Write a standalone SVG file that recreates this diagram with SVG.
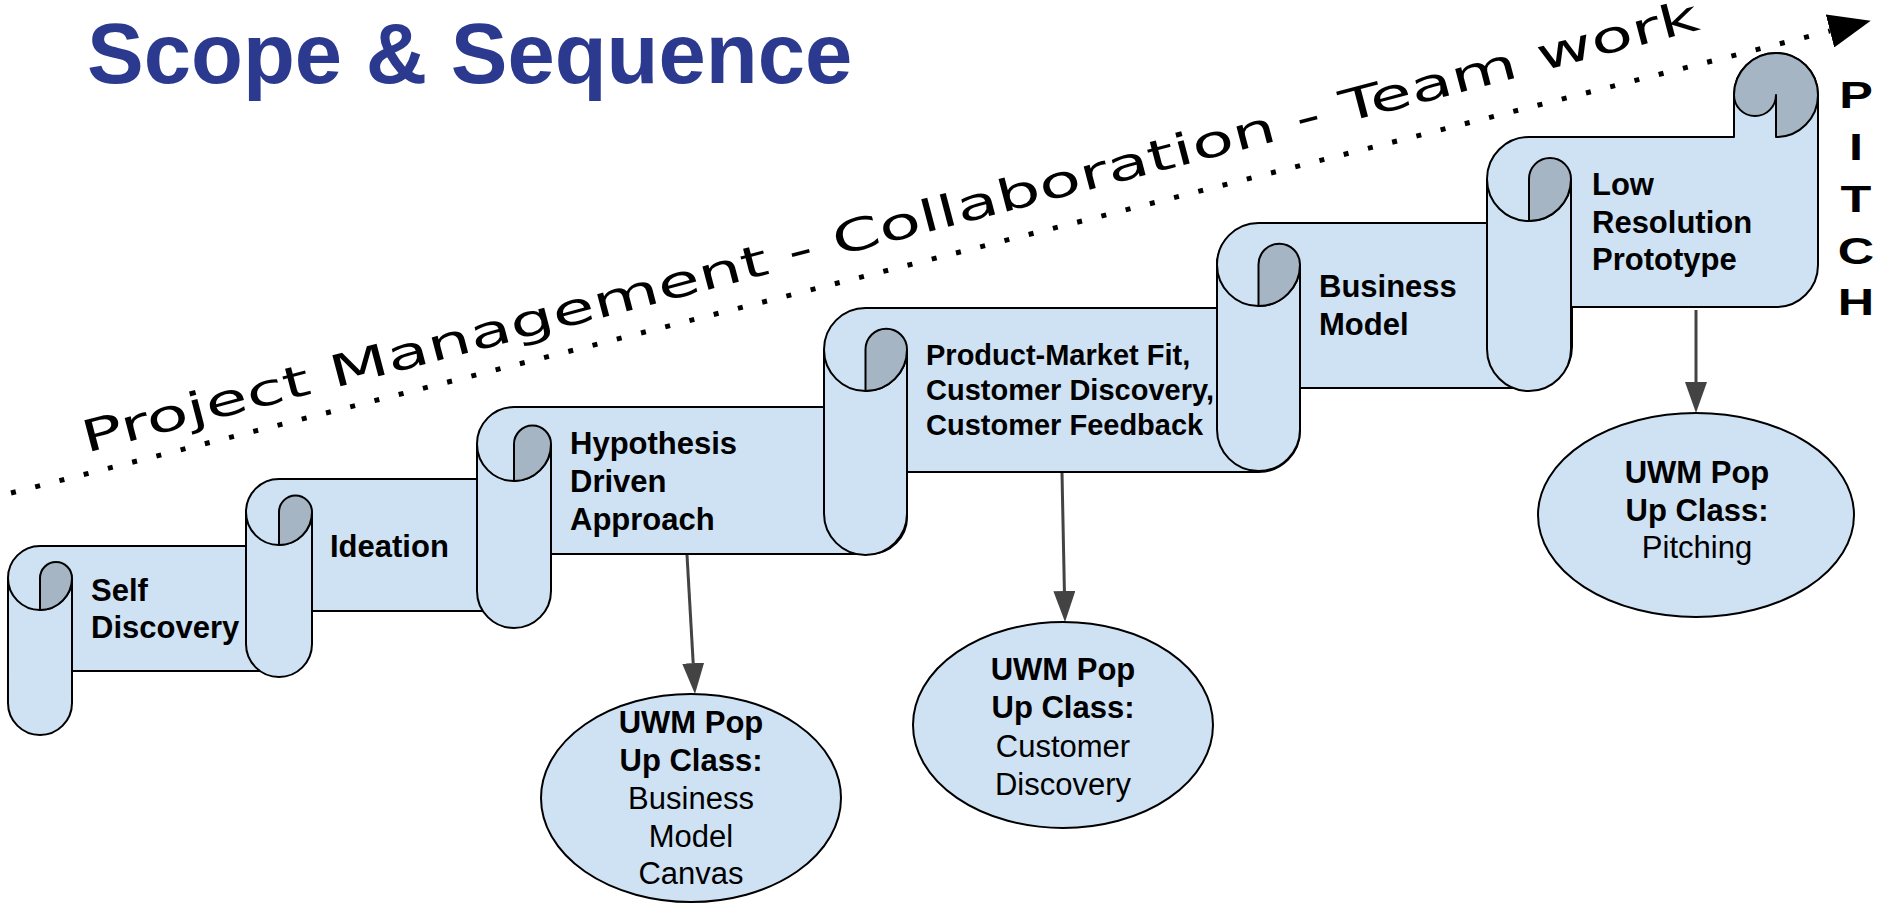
<svg xmlns="http://www.w3.org/2000/svg" width="1882" height="903" viewBox="0 0 1882 903">
<style>
.body{fill:#cfe2f3;stroke:#000;stroke-width:2;stroke-linejoin:round}
.curl{fill:#a5b5c4;stroke:#000;stroke-width:2;stroke-linejoin:round}
.ln{fill:none;stroke:#000;stroke-width:2}
.t{font-family:"Liberation Sans",Arial,sans-serif;font-size:31px;fill:#000}
.b{font-weight:bold}
.c{text-anchor:middle}
.conn{stroke:#434343;stroke-width:3;fill:none;marker-end:url(#ah)}
.oval{fill:#cfe2f3;stroke:#000;stroke-width:2}
</style>
<defs>
<marker id="ah" markerUnits="userSpaceOnUse" orient="auto" viewBox="0 -11 31 22" markerWidth="31" markerHeight="22" refX="0" refY="0"><path d="M0,-11 L31,0 L0,11 Z" fill="#434343"/></marker>
<marker id="bigah" markerUnits="userSpaceOnUse" orient="auto" viewBox="0 -17 42 34" markerWidth="42" markerHeight="34" refX="0" refY="0"><path d="M0,-17 L42,0 L0,17 Z" fill="#000"/></marker>
</defs>
<rect width="1882" height="903" fill="#fff"/>
<text id="title" x="87" y="83" style="font-family:'Liberation Sans',Arial,sans-serif;font-size:85px;font-weight:bold;fill:#2b3a8f">Scope &amp; Sequence</text>
<g id="timeline">
<path d="M11,493 L1830,31" style="stroke:#000;stroke-width:5;stroke-dasharray:5 20;fill:none;marker-end:url(#bigah)"/>
<text transform="rotate(-14.7 86 453)" x="86" y="453" textLength="1670" lengthAdjust="spacingAndGlyphs" style="font-family:'DejaVu Sans',sans-serif;font-size:44px;fill:#000">Project Management - Collaboration - Team work</text>
</g>
<g id="pitch" class="t b" style="font-size:36px">
<text transform="translate(1856,108) scale(1.4,1)" class="c">P</text>
<text transform="translate(1856,160) scale(1.4,1)" class="c">I</text>
<text transform="translate(1856,212) scale(1.4,1)" class="c">T</text>
<text transform="translate(1856,264) scale(1.4,1)" class="c">C</text>
<text transform="translate(1856,315) scale(1.4,1)" class="c">H</text>
</g>
<g id="scroll1">
<path class="body" d="M40,546 L247,546 L247,514 A32,32 0 0 1 311,514 L311,639 A32,32 0 0 1 279,671 L72,671 L72,703 A32,32 0 0 1 8,703 L8,578 A32,32 0 0 1 40,546 Z"/>
<path class="ln" d="M8,578 A32,32 0 0 0 72,578 M72,578 L72,671"/>
<path class="curl" d="M40,578 A16,16 0 0 1 72,578 A32,32 0 0 1 40,610 Z"/>
<path class="curl" d="M247,514 A32,32 0 0 1 311,514 A32,32 0 0 1 279,546 L279,514 A16,16 0 0 1 247,514 Z"/>
<text class="t b" x="91" y="601">Self</text>
<text class="t b" x="91" y="638">Discovery</text>
</g>
<g id="scroll2">
<path class="body" d="M279,479 L485,479 L485,446 A33,33 0 0 1 551,446 L551,578 A33,33 0 0 1 518,611 L312,611 L312,644 A33,33 0 0 1 246,644 L246,512 A33,33 0 0 1 279,479 Z"/>
<path class="ln" d="M246,512 A33,33 0 0 0 312,512 M312,512 L312,611"/>
<path class="curl" d="M279,512 A16.5,16.5 0 0 1 312,512 A33,33 0 0 1 279,545 Z"/>
<path class="curl" d="M485,446 A33,33 0 0 1 551,446 A33,33 0 0 1 518,479 L518,446 A16.5,16.5 0 0 1 485,446 Z"/>
<text class="t b" x="330" y="557">Ideation</text>
</g>
<g id="scroll3">
<path class="body" d="M514,407 L833,407 L833,370 A37,37 0 0 1 907,370 L907,517 A37,37 0 0 1 870,554 L551,554 L551,591 A37,37 0 0 1 477,591 L477,444 A37,37 0 0 1 514,407 Z"/>
<path class="ln" d="M477,444 A37,37 0 0 0 551,444 M551,444 L551,554"/>
<path class="curl" d="M514,444 A18.5,18.5 0 0 1 551,444 A37,37 0 0 1 514,481 Z"/>
<path class="curl" d="M833,370 A37,37 0 0 1 907,370 A37,37 0 0 1 870,407 L870,370 A18.5,18.5 0 0 1 833,370 Z"/>
<text class="t b" x="570" y="454">Hypothesis</text>
<text class="t b" x="570" y="492">Driven</text>
<text class="t b" x="570" y="530">Approach</text>
</g>
<g id="scroll4">
<path class="body" d="M865.5,308 L1217,308 L1217,266.5 A41.5,41.5 0 0 1 1300,266.5 L1300,430.5 A41.5,41.5 0 0 1 1258.5,472 L907,472 L907,513.5 A41.5,41.5 0 0 1 824,513.5 L824,349.5 A41.5,41.5 0 0 1 865.5,308 Z"/>
<path class="ln" d="M824,349.5 A41.5,41.5 0 0 0 907,349.5 M907,349.5 L907,472"/>
<path class="curl" d="M865.5,349.5 A20.75,20.75 0 0 1 907,349.5 A41.5,41.5 0 0 1 865.5,391 Z"/>
<path class="curl" d="M1217,266.5 A41.5,41.5 0 0 1 1300,266.5 A41.5,41.5 0 0 1 1258.5,308 L1258.5,266.5 A20.75,20.75 0 0 1 1217,266.5 Z"/>
<text class="t b" x="926" y="365" style="font-size:29px">Product-Market Fit,</text>
<text class="t b" x="926" y="400" style="font-size:29px">Customer Discovery,</text>
<text class="t b" x="926" y="435" style="font-size:29px">Customer Feedback</text>
</g>
<g id="scroll5">
<path class="body" d="M1258.5,223 L1489,223 L1489,181.5 A41.5,41.5 0 0 1 1572,181.5 L1572,346.5 A41.5,41.5 0 0 1 1530.5,388 L1300,388 L1300,429.5 A41.5,41.5 0 0 1 1217,429.5 L1217,264.5 A41.5,41.5 0 0 1 1258.5,223 Z"/>
<path class="ln" d="M1217,264.5 A41.5,41.5 0 0 0 1300,264.5 M1300,264.5 L1300,388"/>
<path class="curl" d="M1258.5,264.5 A20.75,20.75 0 0 1 1300,264.5 A41.5,41.5 0 0 1 1258.5,306 Z"/>
<path class="curl" d="M1489,181.5 A41.5,41.5 0 0 1 1572,181.5 A41.5,41.5 0 0 1 1530.5,223 L1530.5,181.5 A20.75,20.75 0 0 1 1489,181.5 Z"/>
<text class="t b" x="1319" y="297">Business</text>
<text class="t b" x="1319" y="335">Model</text>
</g>
<g id="scroll6">
<path class="body" d="M1529,137 L1734,137 L1734,95 A42,42 0 0 1 1818,95 L1818,265 A42,42 0 0 1 1776,307 L1571,307 L1571,349 A42,42 0 0 1 1487,349 L1487,179 A42,42 0 0 1 1529,137 Z"/>
<path class="ln" d="M1487,179 A42,42 0 0 0 1571,179 M1571,179 L1571,307"/>
<path class="curl" d="M1529,179 A21,21 0 0 1 1571,179 A42,42 0 0 1 1529,221 Z"/>
<path class="curl" d="M1734,95 A42,42 0 0 1 1818,95 A42,42 0 0 1 1776,137 L1776,95 A21,21 0 0 1 1734,95 Z"/>
<text class="t b" x="1592" y="195">Low</text>
<text class="t b" x="1592" y="233">Resolution</text>
<text class="t b" x="1592" y="270">Prototype</text>
</g>
<g id="connectors">
<path class="conn" d="M687,555 L693.2,663.1"/>
<path class="conn" d="M1062,473 L1064.4,591"/>
<path class="conn" d="M1696,310 L1696,382"/>
</g>
<g id="class1">
<ellipse class="oval" cx="691" cy="798" rx="150" ry="104"/>
<text class="t b c" x="691" y="733">UWM Pop</text>
<text class="t b c" x="691" y="771">Up Class:</text>
<text class="t c" x="691" y="809">Business</text>
<text class="t c" x="691" y="847">Model</text>
<text class="t c" x="691" y="884">Canvas</text>
</g>
<g id="class2">
<ellipse class="oval" cx="1063" cy="725" rx="150" ry="103"/>
<text class="t b c" x="1063" y="680">UWM Pop</text>
<text class="t b c" x="1063" y="718">Up Class:</text>
<text class="t c" x="1063" y="757">Customer</text>
<text class="t c" x="1063" y="795">Discovery</text>
</g>
<g id="class3">
<ellipse class="oval" cx="1696" cy="515" rx="158" ry="102"/>
<text class="t b c" x="1697" y="483">UWM Pop</text>
<text class="t b c" x="1697" y="521">Up Class:</text>
<text class="t c" x="1697" y="558">Pitching</text>
</g>
</svg>
